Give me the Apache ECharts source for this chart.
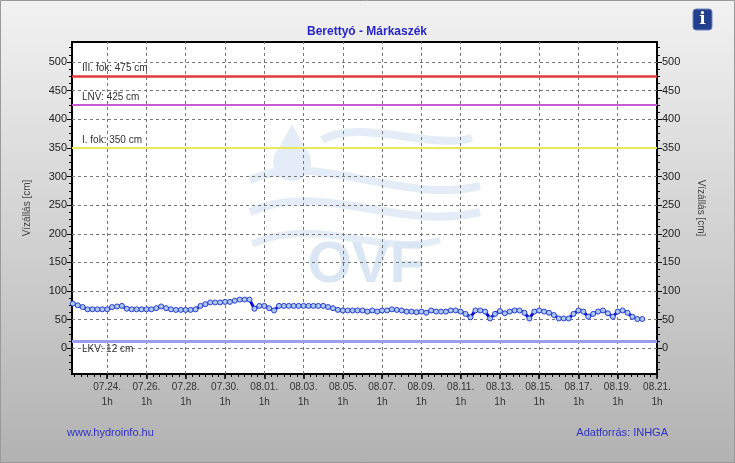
<!DOCTYPE html>
<html>
<head>
<meta charset="utf-8">
<script src="https://cdn.jsdelivr.net/npm/echarts@6/dist/echarts.min.js"></script>
<style>
  html, body { margin: 0; padding: 0; background: #fff; }
  #chart { width: 735px; height: 463px; }
</style>
</head>
<body>
<div id="chart"></div>
<script>
// vízállás, 6 óránként, 07.22. 7h-tól
var firstHour = 7;      // órák 07.22. 0h-tól számítva
var stepHours = 6;
var levels = [
  78, 75, 72, 68, 68, 68, 68, 68, 72, 73, 74, 69, 68, 68, 68, 68, 68, 70, 73, 70,
  68, 67, 67, 67, 67, 68, 74, 77, 80, 80, 80, 81, 81, 83, 85, 85, 85, 69, 74, 74,
  70, 66, 74, 74, 74, 74, 74, 74, 74, 74, 74, 74, 72, 70, 67, 66, 66, 66, 66, 66,
  64, 66, 64, 66, 66, 68, 67, 66, 64, 64, 63, 64, 62, 66, 64, 64, 64, 66, 66, 64,
  60, 54, 66, 66, 64, 52, 60, 65, 61, 64, 66, 66, 62, 52, 64, 66, 64, 62, 58, 52,
  52, 52, 60, 66, 64, 55, 60, 64, 66, 61, 55, 64, 66, 62, 55, 51, 51
];
var xTickLabels = ['07.24.', '07.26.', '07.28.', '07.30.', '08.01.', '08.03.', '08.05.', '08.07.',
                   '08.09.', '08.11.', '08.13.', '08.15.', '08.17.', '08.19.', '08.21.'];
var yTickLabels = [0, 50, 100, 150, 200, 250, 300, 350, 400, 450, 500];
var limitNames = ['III. fok: 475 cm', 'LNV: 425 cm', 'I. fok: 350 cm', 'LKV: 12 cm'];
var limitValues = [475, 425, 350, 12];

var baseTime = Date.UTC(2025, 6, 22, 0);
function labelToHour(lbl) {
  var p = lbl.split('.');
  return (Date.UTC(2025, +p[0] - 1, +p[1], 1) - baseTime) / 3600000;
}
function hourToLabel(h) {
  var d = new Date(baseTime + h * 3600000);
  var mm = ('0' + (d.getUTCMonth() + 1)).slice(-2), dd = ('0' + d.getUTCDate()).slice(-2);
  return mm + '.' + dd + '.';
}
var xMajor = xTickLabels.map(labelToHour);
var xMin = 6, xMax = xMajor[xMajor.length - 1];
var xMinor = [];
for (var h = xMajor[0] % 8 + 8; h <= xMax; h += 8) { if (h > xMin) xMinor.push(h); }

var font = 'Liberation Sans, Arial, sans-serif';
var limitColors = ['#e23b3b', '#c95bd3', '#e9e85a', '#9b9df0'];
var limitWidths = [2.5, 2, 2, 3];
var wm = '#e3ecf7';

var dom = document.getElementById('chart');
var myChart = echarts.init(dom, null, { renderer: 'canvas' });

function yAxis(pos) {
  return {
    type: 'value', position: pos, min: -45, max: 535, splitNumber: 12,
    name: 'Vízállás [cm]', nameLocation: 'middle', nameGap: pos === 'left' ? 40 : 39,
    nameRotate: pos === 'left' ? 90 : -90,
    nameTextStyle: { color: '#444', fontSize: 10, fontFamily: font },
    axisLine: { show: false, onZero: false },
    axisTick: { show: true, length: 5, customValues: yTickLabels, lineStyle: { color: '#000' } },
    minorTick: { show: true, splitNumber: 4, length: 3, lineStyle: { color: '#000' } },
    axisLabel: { customValues: yTickLabels, color: '#222', fontSize: 11, fontFamily: font, margin: 5 },
    splitLine: { show: pos === 'left', lineStyle: { type: [3, 3], color: '#777', width: 1 } }
  };
}

var option = {
  backgroundColor: {
    type: 'linear', x: 0, y: 0, x2: 0, y2: 1,
    colorStops: [{ offset: 0, color: '#f2f2f2' }, { offset: 1, color: '#b2b2b2' }]
  },
  animation: false,
  title: {
    text: 'Berettyó - Márkaszék', left: 362, top: 21, textAlign: 'center',
    textStyle: { color: '#2626cc', fontSize: 12, fontWeight: 'bold', fontFamily: font }
  },
  grid: {
    left: 72, right: 78, top: 42, bottom: 89, show: true,
    backgroundColor: '#fff', borderColor: '#000', borderWidth: 2,
    outerBoundsMode: 'none'
  },
  graphic: [
    { type: 'rect', shape: { x: 0.5, y: 0.5, width: 734, height: 462 }, style: { fill: 'none', stroke: '#9a9a9a', lineWidth: 1 }, silent: true },
    // OVF vízjel
    { type: 'group', z: 1, silent: true, children: [
      { type: 'circle', shape: { cx: 292, cy: 162, r: 19 }, style: { fill: wm } },
      { type: 'polygon', shape: { points: [[292, 124], [275, 156], [309, 156]] }, style: { fill: wm } },
      { type: 'bezierCurve', shape: { x1: 322, y1: 140, cpx1: 360, cpy1: 118, cpx2: 430, cpy2: 150, x2: 472, y2: 138 }, style: { stroke: wm, lineWidth: 8, fill: 'none' } },
      { type: 'bezierCurve', shape: { x1: 250, y1: 180, cpx1: 320, cpy1: 150, cpx2: 400, cpy2: 205, x2: 480, y2: 186 }, style: { stroke: wm, lineWidth: 8, fill: 'none' } },
      { type: 'bezierCurve', shape: { x1: 250, y1: 212, cpx1: 320, cpy1: 180, cpx2: 400, cpy2: 232, x2: 480, y2: 212 }, style: { stroke: wm, lineWidth: 8, fill: 'none' } },
      { type: 'bezierCurve', shape: { x1: 252, y1: 244, cpx1: 320, cpy1: 214, cpx2: 380, cpy2: 258, x2: 440, y2: 240 }, style: { stroke: wm, lineWidth: 7, fill: 'none' } },
      { type: 'text', x: 366, y: 266, style: { text: 'OVF', fill: '#dbe6f4', font: 'bold 57px ' + font, textAlign: 'center', textVerticalAlign: 'middle' } }
    ] },
    // info ikon
    { type: 'rect', shape: { x: 693, y: 9, width: 19, height: 21, r: 3 }, style: { fill: '#213f8c', stroke: '#6f86bf', lineWidth: 1 } },
    { type: 'text', x: 702.5, y: 20, style: { text: 'i', fill: '#fff', font: 'bold 17px DejaVu Serif, serif', textAlign: 'center', textVerticalAlign: 'middle' } },
    { type: 'text', left: 67, top: 427, style: { text: 'www.hydroinfo.hu', fill: '#3030c8', font: '11px ' + font } },
    { type: 'text', right: 67, top: 427, style: { text: 'Adatforrás: INHGA', fill: '#3030c8', font: '11px ' + font } }
  ],
  xAxis: [
    {
      type: 'value', min: xMin, max: xMax, position: 'bottom',
      axisLine: { show: false, onZero: false },
      axisTick: { show: true, length: 5, customValues: xMajor, lineStyle: { color: '#000', width: 1.5 } },
      axisLabel: {
        customValues: xMajor, margin: 6, color: '#333', fontSize: 10, fontFamily: font, lineHeight: 15,
        formatter: function (v) { return hourToLabel(v) + '\n1h'; }
      },
      splitLine: { show: false }
    },
    {
      type: 'value', min: xMin, max: xMax, position: 'bottom', offset: 0,
      axisLine: { show: false, onZero: false },
      axisTick: { show: true, length: 3, customValues: xMinor, lineStyle: { color: '#000' } },
      axisLabel: { show: false },
      splitLine: { show: false }
    }
  ],
  yAxis: [yAxis('left'), yAxis('right')],
  series: [
    {
      type: 'line', xAxisIndex: 0, yAxisIndex: 0, z: 5,
      data: levels.map(function (v, i) { return [firstHour + stepHours * i, v]; }),
      symbol: 'circle', symbolSize: 5, showAllSymbol: true,
      lineStyle: { color: '#0a0ad6', width: 3 },
      itemStyle: { color: '#adc9ef', borderColor: '#2a3fd4', borderWidth: 1 },
      markLine: {
        silent: true, symbol: 'none', z: 3,
        data: xMajor.slice(0, -1).map(function (h) {
          return { xAxis: h, lineStyle: { type: [3, 3], color: '#777', width: 1 }, label: { show: false } };
        }).concat(limitValues.map(function (v, i) {
          return {
            yAxis: v, name: limitNames[i],
            lineStyle: { type: 'solid', color: limitColors[i], width: limitWidths[i] },
            label: {
              show: true, formatter: limitNames[i],
              position: i === 3 ? 'insideStartBottom' : 'insideStartTop',
              distance: [10, 3], color: '#333', fontSize: 10, fontFamily: font
            }
          };
        }))
      }
    }
  ]
};

if (option && typeof option === 'object') {
  myChart.setOption(option, true);
}
</script>
</body>
</html>
